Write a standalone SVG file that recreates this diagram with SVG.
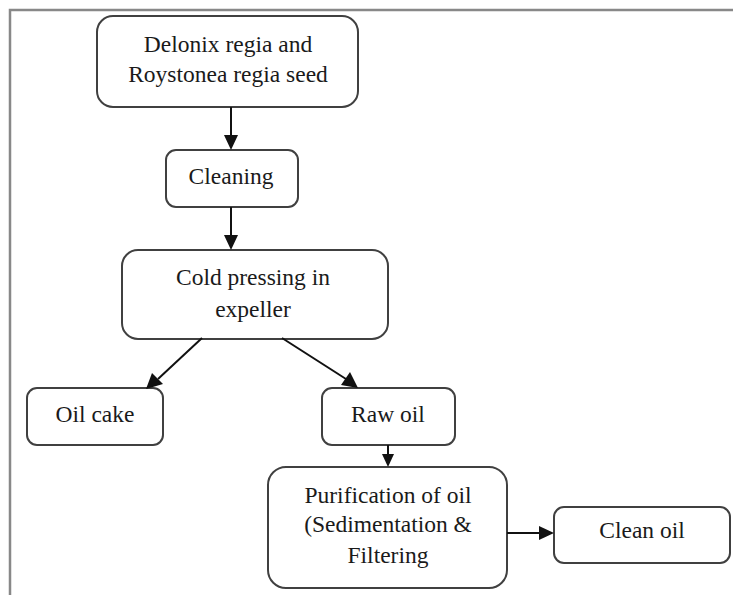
<svg xmlns="http://www.w3.org/2000/svg" width="733" height="595" viewBox="0 0 733 595">
<style>
.box{fill:#fff;stroke:#404040;stroke-width:2}
.t{font-family:"Liberation Serif","Times New Roman",serif;font-size:23.5px;fill:#1a1a1a;text-anchor:middle}
.c{stroke:#111;stroke-width:2;fill:none;marker-end:url(#ah)}
.frame{stroke:#888;stroke-width:2.5;fill:none}
</style>
<defs>
<marker id="ah" viewBox="0 0 10 10" refX="10" refY="5" markerWidth="6" markerHeight="6" markerUnits="userSpaceOnUse" orient="auto">
<path d="M0,0 L10,5 L0,10 z" fill="#111"/>
</marker>
<marker id="ah2" viewBox="0 0 10 10" refX="10" refY="5" markerWidth="8" markerHeight="8" orient="auto">
<path d="M0,0 L10,5 L0,10 z" fill="#111"/>
</marker>
</defs>
<rect width="733" height="595" fill="#fff"/>
<path class="frame" d="M10,595 V10 H733"/>
<g id="n1"><rect class="box" x="97" y="16" width="261" height="91" rx="16"/>
<text class="t" x="228" y="52">Delonix regia and</text>
<text class="t" x="228" y="82">Roystonea regia seed</text></g>
<g id="n2"><rect class="box" x="166" y="150" width="132" height="57" rx="10"/>
<text class="t" x="231" y="184">Cleaning</text></g>
<g id="n3"><rect class="box" x="122" y="250" width="266" height="89" rx="16"/>
<text class="t" x="253" y="285">Cold pressing in</text>
<text class="t" x="253" y="317">expeller</text></g>
<g id="n4"><rect class="box" x="27" y="388" width="136" height="57" rx="10"/>
<text class="t" x="95" y="422">Oil cake</text></g>
<g id="n5"><rect class="box" x="322" y="388" width="133" height="57" rx="10"/>
<text class="t" x="388" y="422">Raw oil</text></g>
<g id="n6"><rect class="box" x="268" y="467" width="239" height="121" rx="18"/>
<text class="t" x="388" y="503">Purification of oil</text>
<text class="t" x="388" y="532">(Sedimentation &amp;</text>
<text class="t" x="388" y="563">Filtering</text></g>
<g id="n7"><rect class="box" x="554" y="507" width="176" height="56" rx="10"/>
<text class="t" x="642" y="538">Clean oil</text></g>
<g id="connectors">
<path d="M231,107 V136" stroke="#111" stroke-width="2"/><path d="M224,135 L238,135 L231,150 z" fill="#111"/>
<path d="M231,207 V236" stroke="#111" stroke-width="2"/><path d="M224,235 L238,235 L231,250 z" fill="#111"/>
<path d="M202,338 L158,379" stroke="#111" stroke-width="2"/><path d="M152,373 L163,384 L146,389 z" fill="#111"/>
<path d="M282,338 L346,379" stroke="#111" stroke-width="2"/><path d="M341,385 L350,372 L358,388 z" fill="#111"/>
<path d="M388,445 V455" stroke="#111" stroke-width="2"/><path d="M382,454 L394,454 L388,467 z" fill="#111"/>
<path d="M507,533 H540" stroke="#111" stroke-width="2"/><path d="M539,526 L539,540 L554,533 z" fill="#111"/>
</g>
</svg>
